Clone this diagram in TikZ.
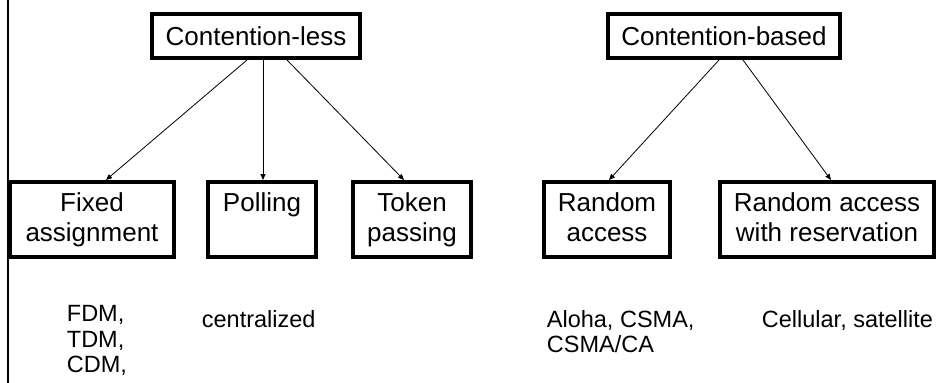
\documentclass[tikz,border=0pt]{standalone}
\usepackage{fontspec}
\setmainfont{Liberation Sans}
\usetikzlibrary{arrows.meta,calc}
\begin{document}
\begin{tikzpicture}[x=1pt,y=-1pt,
  box/.style={draw,line width=4pt,inner sep=0pt,align=center,
    font=\fontsize{26}{30}\selectfont,execute at end node=\vphantom{g}},
  topbox/.style={draw,line width=4pt,inner sep=0pt,
    font=\fontsize{26}{30}\selectfont},
  link/.style={line width=0.8pt,-{Triangle[length=6pt,width=5pt]}},
  note/.style={anchor=base west,inner sep=0pt,font=\fontsize{23.5}{25.5}\selectfont}]
\useasboundingbox (0,0) rectangle (943,383);

% left margin rule
\draw[line width=2.2pt] (7.8,0) -- (7.8,383);

% category boxes
\node[topbox,minimum width=208pt,minimum height=44pt] (cl) at (256,36) {Contention-less};
\node[topbox,minimum width=232pt,minimum height=44pt] (cb) at (724,36) {Contention-based};

% protocol family boxes
\node[box,minimum width=164pt,minimum height=75pt] (fa) at (92,219.5) {Fixed\\assignment};
\node[box,minimum width=108pt,minimum height=75pt] (po) at (262,219.5) {Polling\\};
\node[box,minimum width=118pt,minimum height=75pt] (tp) at (412,219.5) {Token\\passing};
\node[box,minimum width=126pt,minimum height=75pt] (ra) at (607,219.5) {Random\\access};
\node[box,minimum width=214pt,minimum height=75pt] (rr) at (827,219.5) {Random access\\with reservation};

% hierarchy arrows
\draw[link] ($(cl.south)+(-9,0)$) -- ($(fa.north)+(14,0)$);
\draw[link] ($(cl.south)+(7,0)$) -- ($(po.north)+(1,0)$);
\draw[link] ($(cl.south)+(31,0)$) -- ($(tp.north)+(-8,0)$);
\draw[link] ($(cb.south)+(-5,0)$) -- ($(ra.north)+(2,0)$);
\draw[link] ($(cb.south)+(19,0)$) -- ($(rr.north)+(4,0)$);

% examples
\node[note] (fdm) at (66.7,321.7) {FDM,};
\node[note] (tdm) at (66.7,347.2) {TDM,};
\node[note] (cdm) at (66.7,372.7) {CDM,};
\node[note] (cen) at (201.7,327.3) {centralized};
\node[note] (alo) at (546.7,327.3) {Aloha, CSMA,};
\node[note] (csca) at (546.7,352.8) {CSMA/CA};
\node[note] (cel) at (761.7,327.3) {Cellular, satellite};
\end{tikzpicture}
\end{document}
